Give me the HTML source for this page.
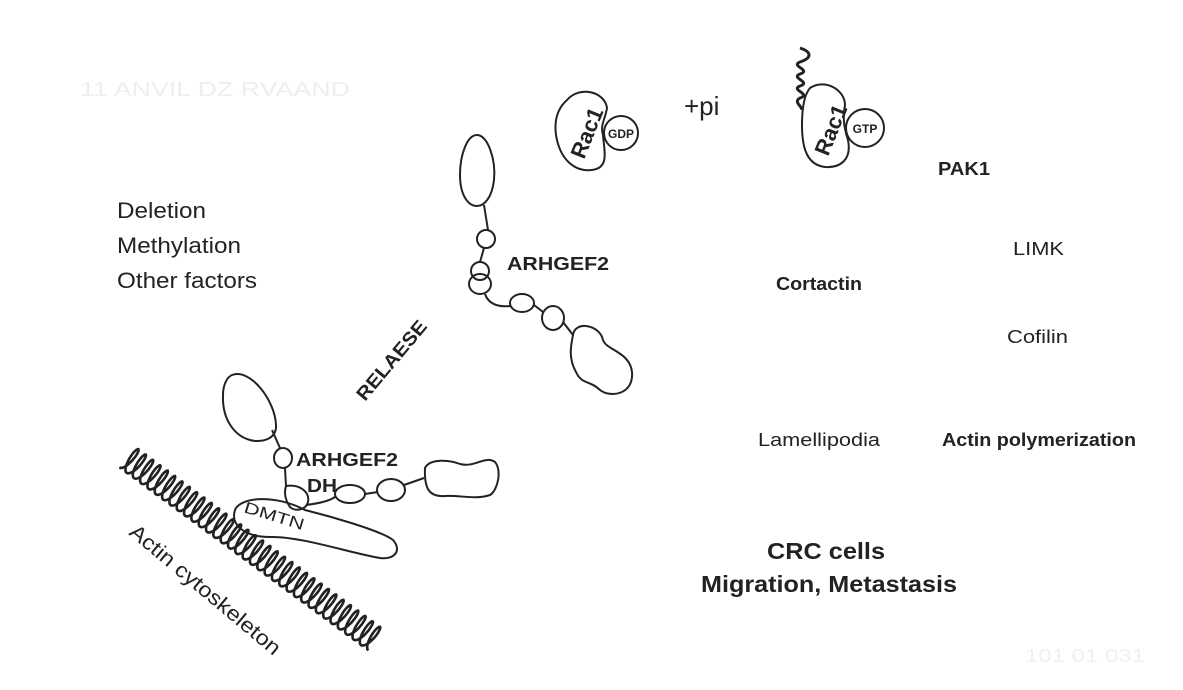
<!DOCTYPE html>
<html><head><meta charset="utf-8"><style>
body{margin:0;background:#fff}
svg{display:block;font-family:"Liberation Sans",sans-serif}
</style></head><body>
<svg width="1183" height="690" viewBox="0 0 1183 690" xmlns="http://www.w3.org/2000/svg">
<g fill="none" stroke="#222" stroke-width="2">
 <g>
  <path d="M477 135 C488 135 496 160 494 180 C492 198 484 206 477 206 C468 206 460 195 460 175 C460 155 467 135 477 135 Z"/>
  <path d="M484 205 L488 230"/>
  <ellipse cx="486" cy="239" rx="9" ry="9"/>
  <path d="M484 248 L480 262"/>
  <ellipse cx="480" cy="271" rx="9" ry="9"/>
  <ellipse cx="480" cy="284" rx="11" ry="10"/>
  <path d="M485 294 Q490 308 510 306"/>
  <ellipse cx="522" cy="303" rx="12" ry="9"/>
  <path d="M534 305 L543 312"/>
  <ellipse cx="553" cy="318" rx="11" ry="12"/>
  <path d="M563 322 L573 335"/>
  <path d="M573 335 C575 320 600 325 603 340 C606 350 630 352 632 372 C634 395 610 398 600 390 C590 380 582 385 576 372 C568 358 571 345 573 335 Z"/>
 </g>
 <g>
  <path d="M232 375 C250 368 275 400 276 425 C277 440 260 443 250 440 C235 436 222 420 223 395 C223 385 227 377 232 375 Z"/>
  <path d="M272 430 L280 448"/>
  <ellipse cx="283" cy="458" rx="9" ry="10"/>
  <path d="M285 468 L286 486"/>
  <path d="M286 486 C300 484 310 492 308 502 C306 510 295 512 290 507 C285 500 284 492 286 486 Z"/>
  <path d="M306 505 Q330 502 336 496"/>
  <ellipse cx="350" cy="494" rx="15" ry="9"/>
  <path d="M365 494 L378 492"/>
  <ellipse cx="391" cy="490" rx="14" ry="11"/>
  <path d="M404 485 L424 478"/>
  <path d="M425 468 C430 458 450 460 460 464 C475 468 485 455 495 462 C502 470 498 490 490 495 C475 500 460 495 445 496 C430 497 424 490 425 468 Z"/>
 </g>
 <path d="M305 510 C325 515 380 530 393 540 C402 550 395 560 380 558 C350 553 300 536 270 537 C245 537 230 525 235 510 C240 497 275 494 305 510 Z"/>
 <path stroke-width="2.6" id="helix" d=""/>
 <path d="M567 100 C580 85 605 92 607 108 C605 120 600 125 603 135 C604 150 610 168 592 170 C575 172 560 160 556 135 C554 120 558 108 567 100 Z"/>
 <circle cx="621" cy="133" r="17"/>
 <path d="M810 88 C825 78 845 90 845 105 C843 115 843 125 848 140 C852 160 840 168 825 167 C808 165 802 150 802 125 C802 108 804 95 810 88 Z"/>
 <circle cx="865" cy="128" r="19"/>
 <path stroke-width="3" d="M800 48 C812 52 812 58 800 62 C790 66 812 70 800 74 C790 78 812 82 800 86 C790 90 812 94 800 98 C793 102 802 106 802 110"/>
</g>
<g fill="#222" font-size="14">
 <text x="621" y="138" text-anchor="middle" font-size="12" font-weight="bold">GDP</text>
 <text x="865" y="133" text-anchor="middle" font-size="12" font-weight="bold">GTP</text>
 <text transform="translate(584,160) rotate(-68)" font-size="22" font-weight="bold">Rac1</text>
 <text transform="translate(828,157) rotate(-68)" font-size="22" font-weight="bold">Rac1</text>
 <text x="684" y="115" font-size="26">+pi</text>
 <text x="117" y="218" font-size="22" textLength="89" lengthAdjust="spacingAndGlyphs">Deletion</text>
 <text x="117" y="253" font-size="22" textLength="124" lengthAdjust="spacingAndGlyphs">Methylation</text>
 <text x="117" y="288" font-size="22" textLength="140" lengthAdjust="spacingAndGlyphs">Other factors</text>
 <text x="507" y="270" font-size="18" font-weight="bold" textLength="102" lengthAdjust="spacingAndGlyphs">ARHGEF2</text>
 <text transform="translate(365,402) rotate(-50)" font-size="19" font-weight="bold" textLength="98" lengthAdjust="spacingAndGlyphs">RELAESE</text>
 <text x="296" y="466" font-size="18" font-weight="bold" textLength="102" lengthAdjust="spacingAndGlyphs">ARHGEF2</text>
 <text x="307" y="492" font-size="18" font-weight="bold" textLength="30" lengthAdjust="spacingAndGlyphs">DH</text>
 <text transform="translate(243,512) rotate(17)" font-size="16" textLength="62" lengthAdjust="spacingAndGlyphs">DMTN</text>
 <text transform="translate(128,534) rotate(40)" font-size="21" textLength="190" lengthAdjust="spacingAndGlyphs">Actin cytoskeleton</text>
 <text x="938" y="175" font-size="18" font-weight="bold" textLength="52" lengthAdjust="spacingAndGlyphs">PAK1</text>
 <text x="1013" y="255" font-size="18" textLength="51" lengthAdjust="spacingAndGlyphs">LIMK</text>
 <text x="776" y="290" font-size="18" font-weight="bold" textLength="86" lengthAdjust="spacingAndGlyphs">Cortactin</text>
 <text x="1007" y="343" font-size="18" textLength="61" lengthAdjust="spacingAndGlyphs">Cofilin</text>
 <text x="758" y="446" font-size="18" textLength="122" lengthAdjust="spacingAndGlyphs">Lamellipodia</text>
 <text x="942" y="446" font-size="18" font-weight="bold" textLength="194" lengthAdjust="spacingAndGlyphs">Actin polymerization</text>
 <text x="767" y="559" font-size="23" font-weight="bold" textLength="118" lengthAdjust="spacingAndGlyphs">CRC cells</text>
 <text x="701" y="592" font-size="23" font-weight="bold" textLength="256" lengthAdjust="spacingAndGlyphs">Migration, Metastasis</text>
 <text x="80" y="96" font-size="20" fill="#eee" textLength="270" lengthAdjust="spacingAndGlyphs">11 ANVIL DZ RVAAND</text>
 <text x="1025" y="662" font-size="18" fill="#f0f0f0" textLength="120" lengthAdjust="spacingAndGlyphs">101 01 031</text>
</g>
<script>
var h=document.getElementById('helix');
var x0=127,y0=457,x1=376,y1=640,turns=34,d='';
var dx=x1-x0,dy=y1-y0,L=Math.hypot(dx,dy),ux=dx/L,uy=dy/L,px=-uy,py=ux;
var N=turns*24;
for(var i=0;i<=N;i++){var t=i/N;var ph=t*turns*2*Math.PI;
var a=13*Math.cos(ph),b=4*Math.sin(ph);
var x=x0+dx*t+px*a+ux*b,y=y0+dy*t+py*a+uy*b;d+=(i?' L':'M')+x.toFixed(1)+' '+y.toFixed(1);}
h.setAttribute('d',d);
</script>
</svg>
</body></html>
